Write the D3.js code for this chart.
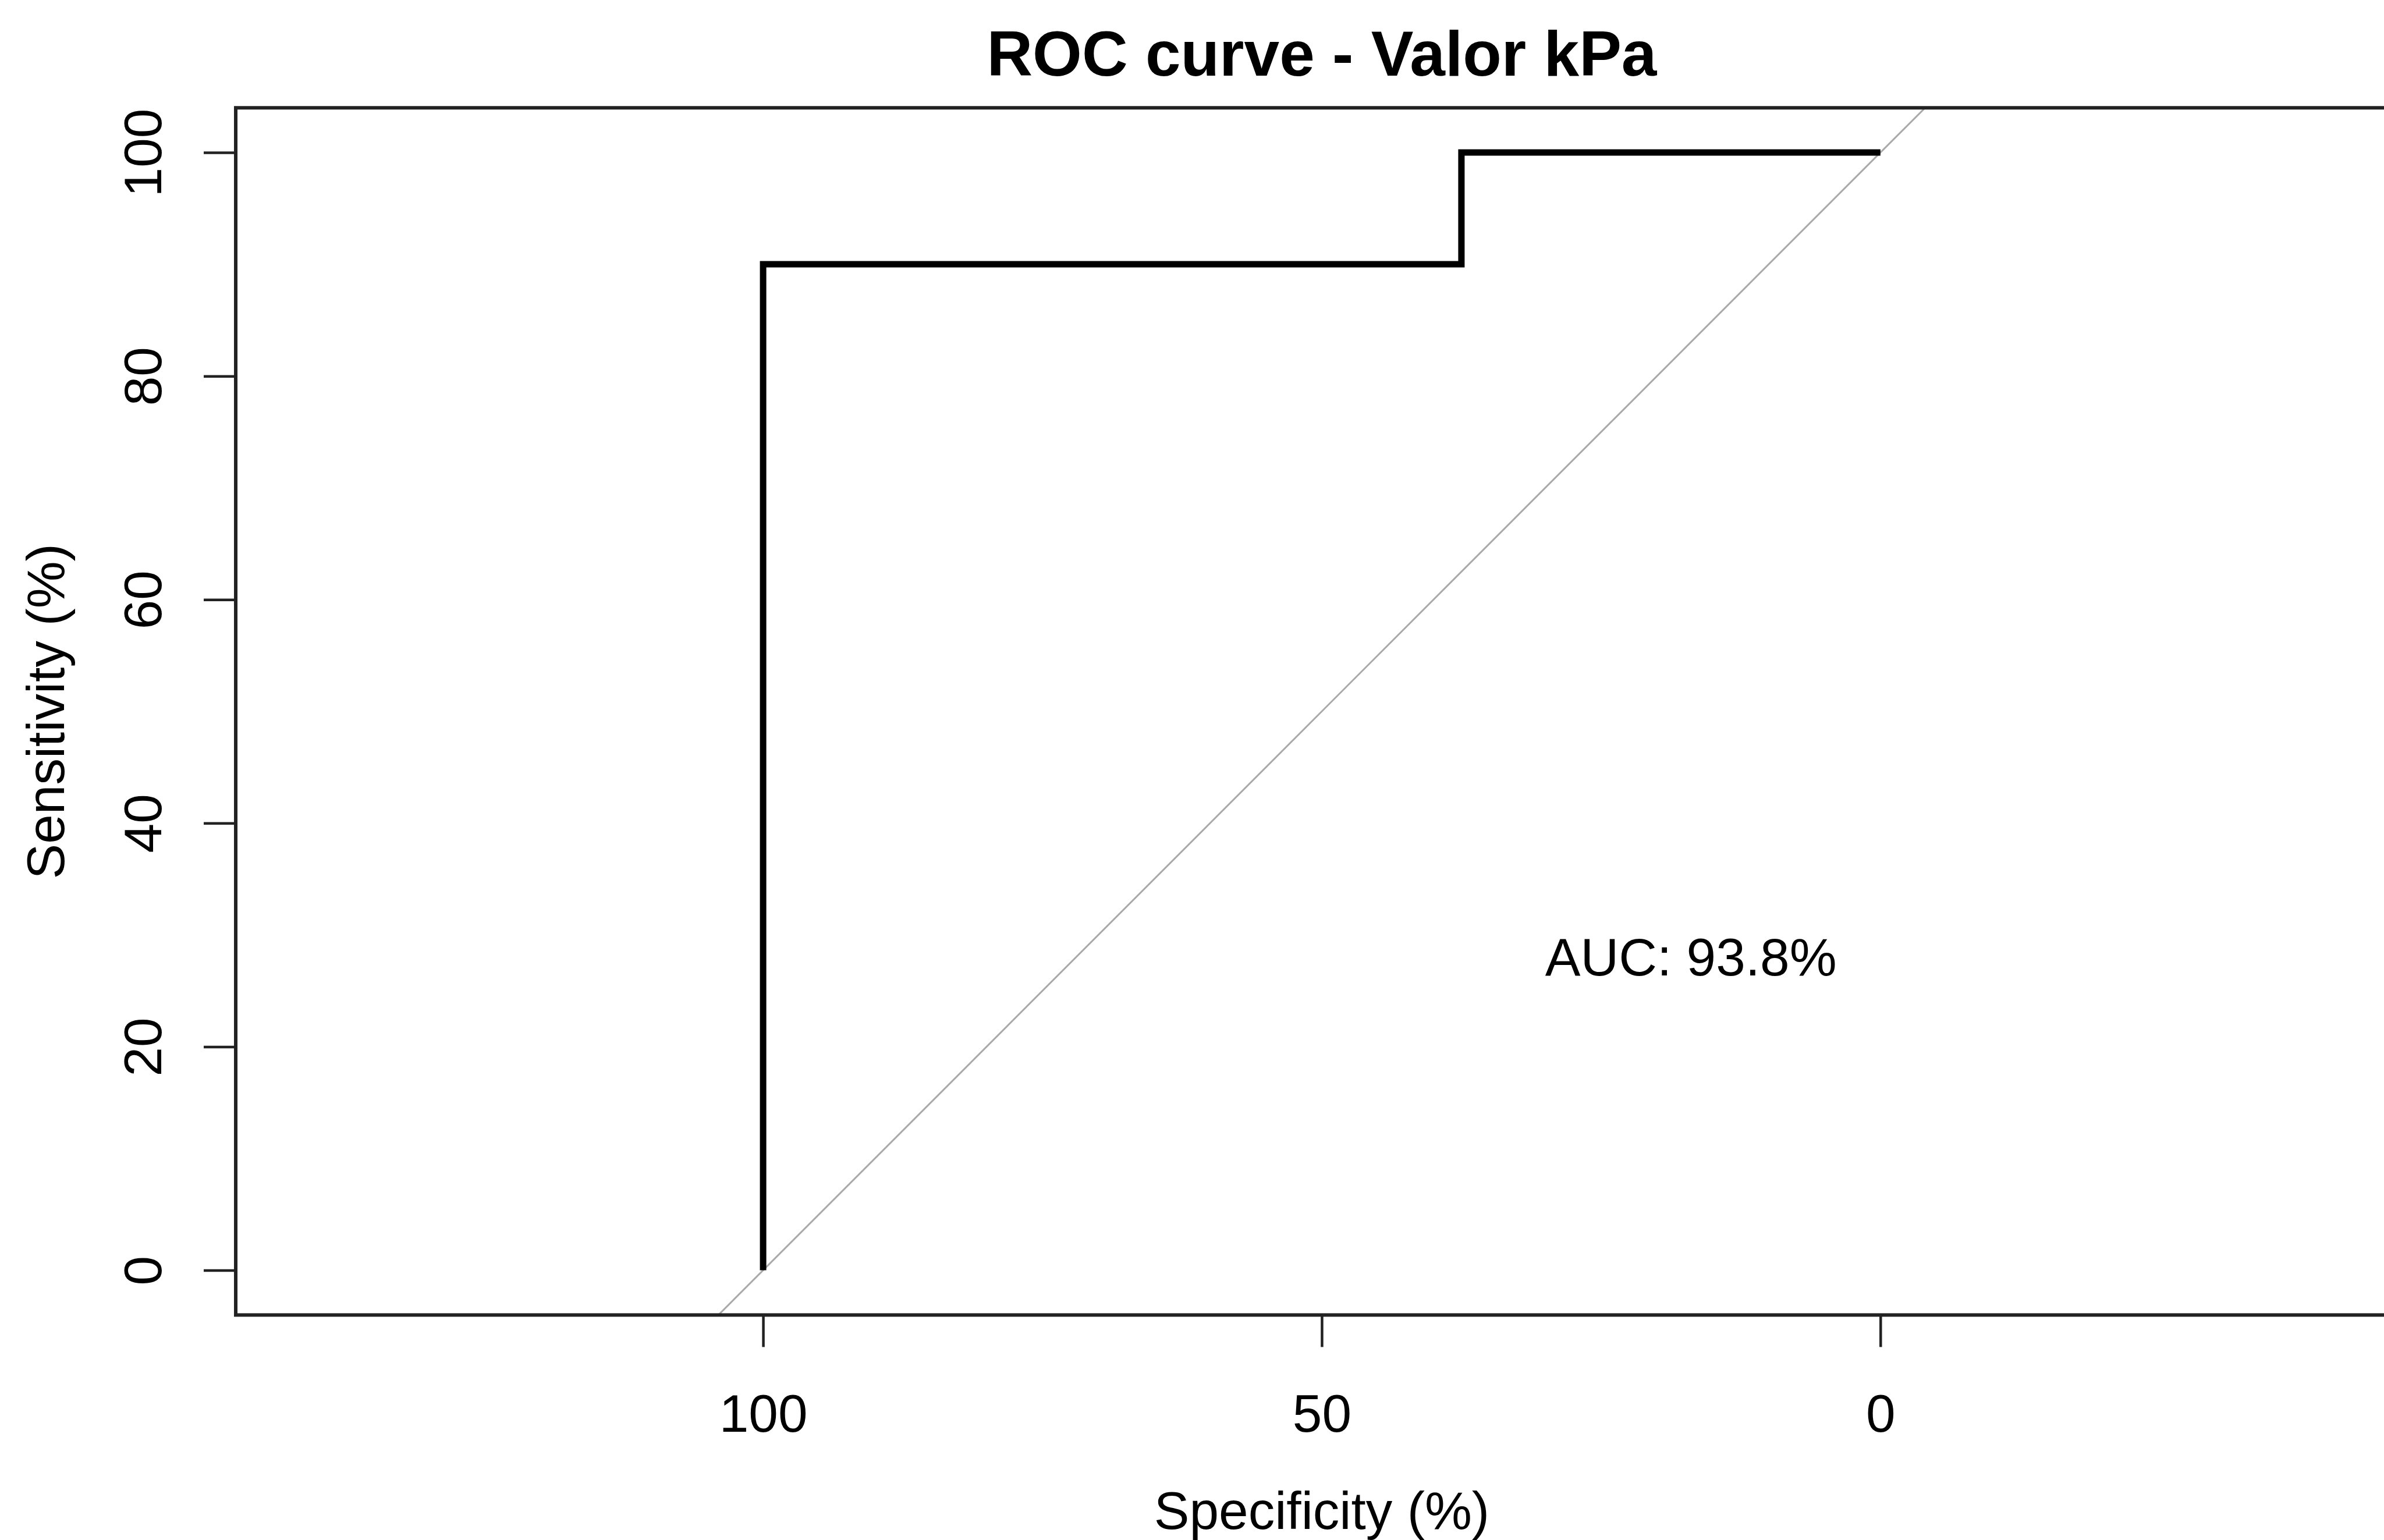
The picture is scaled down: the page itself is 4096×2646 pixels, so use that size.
<!DOCTYPE html>
<html>
<head>
  <meta charset="utf-8">
  <title>ROC curve - Valor kPa</title>
  <script src="https://cdn.jsdelivr.net/npm/d3@7"></script>
  <style>
    body { margin: 0; background: #fff; overflow: hidden; }
    text { font-family: "Liberation Sans", Arial, Helvetica, sans-serif; fill: #000; }
  </style>
</head>
<body>
  <script>
    // ROC curve points (percent), x axis is reversed like pROC draws it
    var specificity = [100, 100, 37.5, 37.5, 0];
    var sensitivity = [0, 90, 90, 100, 100];
    var xTicks = [100, 50, 0];
    var yTicks = [0, 20, 40, 60, 80, 100];
    var titleText = "ROC curve - Valor kPa";
    var xLabel = "Specificity (%)";
    var yLabel = "Sensitivity (%)";
    var aucText = "AUC: 93.8%";
    var aucPos = [30, 30]; // spec, sens of the label's top-left corner

    var width = 4096, height = 2646;
    var k = 0.862; // reference -> window

    // plot limits in data units (asp = 1, so x gets widened)
    var xLim = [147.2, -47.2];
    var yLim = [-4, 104];

    var x = d3.scaleLinear().domain([100, 0]).range([1521 * k, 3748 * k]);
    var y = d3.scaleLinear().domain([0, 100]).range([2532 * k, 304 * k]);

    var fontSize = 91;

    var svg = d3.select("body").append("svg")
      .attr("width", width)
      .attr("height", height);

    var boxL = x(xLim[0]), boxR = x(xLim[1]);
    var boxT = y(yLim[1]), boxB = y(yLim[0]);

    svg.append("clipPath").attr("id", "plotclip")
      .append("rect")
      .attr("x", boxL).attr("y", boxT)
      .attr("width", boxR - boxL).attr("height", boxB - boxT);

    // identity line
    svg.append("line")
      .attr("clip-path", "url(#plotclip)")
      .attr("x1", x(xLim[0])).attr("y1", y(100 - xLim[0]))
      .attr("x2", x(xLim[1])).attr("y2", y(100 - xLim[1]))
      .attr("stroke", "#a9a9a9")
      .attr("stroke-width", 3);

    // ROC curve
    var line = d3.line()
      .x(function (d) { return x(d[0]); })
      .y(function (d) { return y(d[1]); });

    svg.append("path")
      .datum(d3.zip(specificity, sensitivity))
      .attr("d", line)
      .attr("fill", "none")
      .attr("stroke", "#000")
      .attr("stroke-width", 11)
      .attr("stroke-linejoin", "miter")
      .attr("stroke-linecap", "butt");

    // box
    svg.append("rect")
      .attr("x", boxL).attr("y", boxT)
      .attr("width", boxR - boxL).attr("height", boxB - boxT)
      .attr("fill", "none")
      .attr("stroke", "#222")
      .attr("stroke-width", 6);

    // x axis
    var xAxis = svg.append("g")
      .attr("transform", "translate(0," + boxB + ")")
      .call(d3.axisBottom(x).tickValues(xTicks).tickSize(55).tickFormat(d3.format("d")));
    xAxis.select(".domain").remove();
    xAxis.selectAll(".tick line").attr("stroke", "#222").attr("stroke-width", 4.5);
    xAxis.selectAll(".tick text")
      .attr("y", 2460 - boxB)
      .attr("dy", null)
      .style("font-size", fontSize + "px")
      .style("font-family", "Liberation Sans, Arial, sans-serif")
      .attr("fill", "#000");

    // y axis
    var yAxis = svg.append("g")
      .attr("transform", "translate(" + boxL + ",0)")
      .call(d3.axisLeft(y).tickValues(yTicks).tickSize(55).tickFormat(d3.format("d")));
    yAxis.select(".domain").remove();
    yAxis.selectAll(".tick line").attr("stroke", "#222").attr("stroke-width", 4.5);
    yAxis.selectAll(".tick text")
      .attr("x", 0)
      .attr("dy", null)
      .attr("y", 277 - boxL)
      .attr("transform", "rotate(-90)")
      .attr("text-anchor", "middle")
      .style("font-size", fontSize + "px")
      .style("font-family", "Liberation Sans, Arial, sans-serif")
      .attr("fill", "#000");

    // title
    svg.append("text")
      .attr("x", x(50))
      .attr("y", 130)
      .attr("text-anchor", "middle")
      .style("font-size", "109px")
      .style("font-weight", "bold")
      .text(titleText);

    // axis labels
    svg.append("text")
      .attr("x", x(50))
      .attr("y", 2627)
      .attr("text-anchor", "middle")
      .style("font-size", fontSize + "px")
      .text(xLabel);

    svg.append("text")
      .attr("transform", "translate(110," + ((boxT + boxB) / 2) + ") rotate(-90)")
      .attr("text-anchor", "middle")
      .style("font-size", fontSize + "px")
      .text(yLabel);

    // AUC
    svg.append("text")
      .attr("x", x(aucPos[0]))
      .attr("y", y(aucPos[1]) + 0.76 * fontSize)
      .attr("text-anchor", "start")
      .style("font-size", fontSize + "px")
      .text(aucText);
  </script>
</body>
</html>
